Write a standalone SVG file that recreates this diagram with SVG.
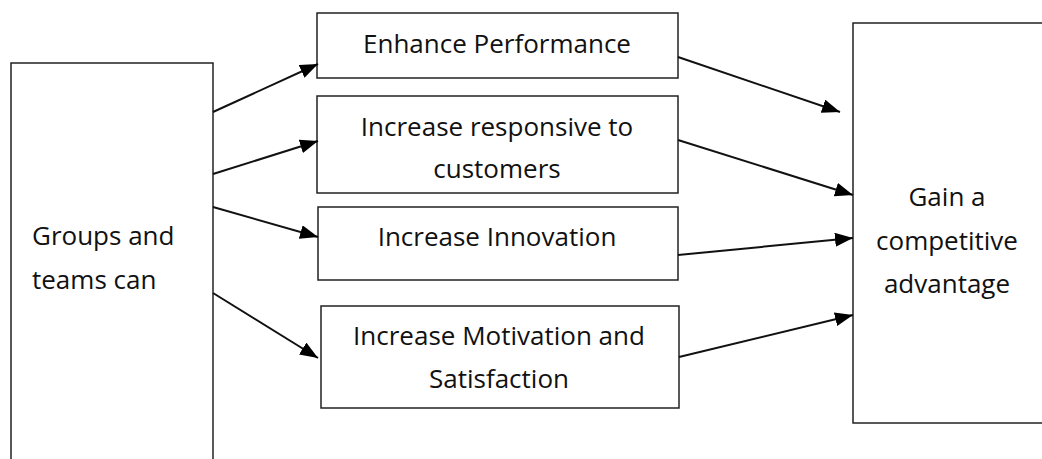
<svg xmlns="http://www.w3.org/2000/svg" width="1042" height="459" viewBox="0 0 1042 459">
<style>
.box{fill:#fff;stroke:#222;stroke-width:1.5}
.t{font-family:"Open Sans","Noto Sans",sans-serif;font-size:26px;fill:#111}
.c{text-anchor:middle}
.con line{stroke:#111;stroke-width:2;marker-end:url(#ah)}
</style>
<defs>
<marker id="ah" viewBox="0 0 18 14" refX="18" refY="7" markerWidth="18" markerHeight="14" markerUnits="userSpaceOnUse" orient="auto">
<path d="M0,0 L18,7 L0,14 Z" fill="#000"/>
</marker>
</defs>
<rect width="1042" height="459" fill="#fff"/>
<g id="groups">
<rect class="box" x="11" y="63" width="202" height="410"/>
<text class="t" x="32" y="245">Groups and</text>
<text class="t" x="32" y="289">teams can</text>
</g>
<g id="enhance">
<rect class="box" x="317" y="13" width="361" height="65"/>
<text class="t c" x="497" y="53">Enhance Performance</text>
</g>
<g id="responsive">
<rect class="box" x="317" y="96" width="361" height="97"/>
<text class="t c" x="497" y="136">Increase responsive to</text>
<text class="t c" x="497" y="178">customers</text>
</g>
<g id="innovation">
<rect class="box" x="318" y="207" width="360" height="73"/>
<text class="t c" x="497" y="246">Increase Innovation</text>
</g>
<g id="motivation">
<rect class="box" x="321" y="306" width="358" height="102"/>
<text class="t c" x="499" y="345">Increase Motivation and</text>
<text class="t c" x="499" y="388">Satisfaction</text>
</g>
<g id="gain">
<rect class="box" x="853" y="23" width="200" height="400"/>
<text class="t c" x="947" y="206">Gain a</text>
<text class="t c" x="947" y="250">competitive</text>
<text class="t c" x="947" y="293">advantage</text>
</g>
<g class="con" id="connectors">
<line x1="213" y1="112" x2="318" y2="64"/>
<line x1="213" y1="174" x2="318" y2="141"/>
<line x1="213" y1="207" x2="318" y2="237"/>
<line x1="213" y1="293" x2="318" y2="358"/>
<line x1="678" y1="57" x2="840" y2="112"/>
<line x1="678" y1="140" x2="853" y2="195"/>
<line x1="678" y1="255" x2="853" y2="238"/>
<line x1="679" y1="357" x2="853" y2="315"/>
</g>
</svg>
